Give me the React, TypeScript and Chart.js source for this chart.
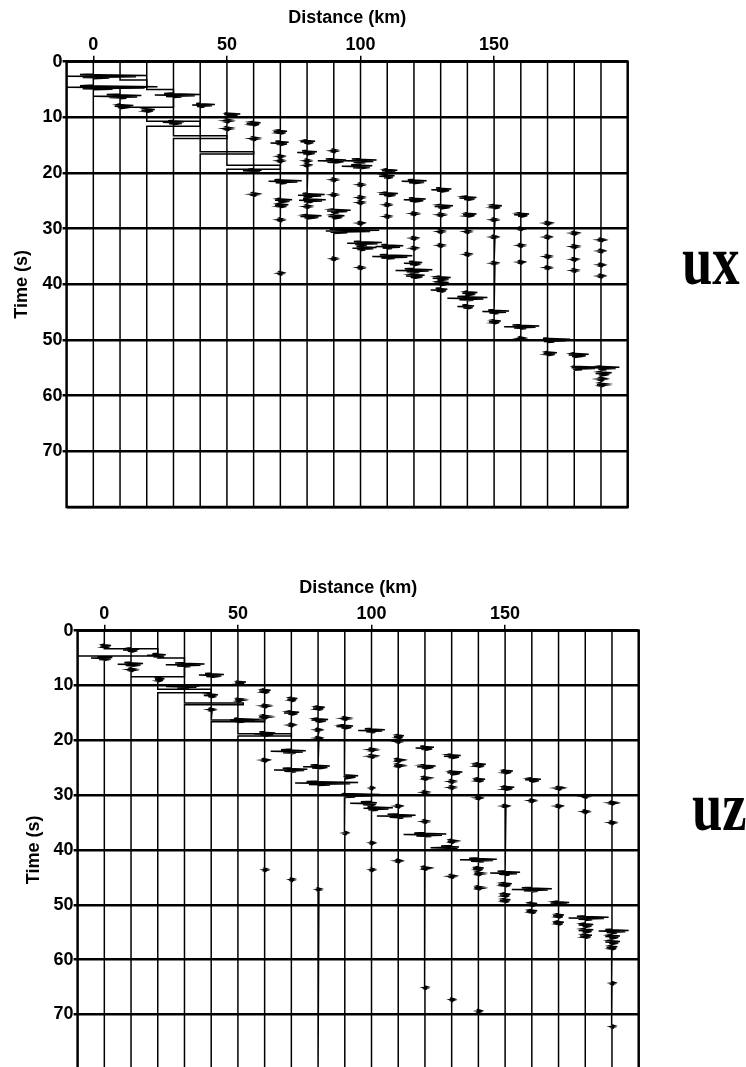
import React, { useEffect, useRef } from 'react';
import { Chart, registerables } from 'chart.js';

Chart.register(...registerables);

// ---------- data ----------
// trace positions (km) and axis ticks
const TRACE_KM = [0, 10, 20, 30, 40, 50, 60, 70, 80, 90, 100, 110, 120, 130, 140, 150, 160, 170, 180, 190];
const X_TICK_KM = [0, 50, 100, 150];
const Y_TICK_S = [0, 10, 20, 30, 40, 50, 60, 70, 80];
const X_MIN_KM = -10;
const X_MAX_KM = 200;
const T_MAX_S = 80;
const X_TITLE = 'Distance (km)';
const Y_TITLE = 'Time (s)';
const PANEL_LABELS = ['ux', 'uz'];

// picks: [trace km, time s, amplitude to the right km, amplitude to the left km, clipped hold s]
const UX_NEAR_PICKS = [
  [0, 2.6, 20, 10, 0],
  [0, 4.6, 24, 10, 0],
  [10, 3.3, 10, 15, 1.3],
  [10, 6.2, 8, 10, 0],
  [10, 8.0, 5, 2, 0],
  [20, 5.0, 10, 10, 3.2],
  [20, 8.7, 3, 2, 0],
  [20, 10.7, 20, 0, 0.9],
  [30, 6.0, 10, 7, 0],
  [30, 10.9, 4, 4, 0],
  [30, 13.3, 20, 0, 0.5],
  [40, 7.8, 5.5, 3, 0],
  [40, 16.2, 20, 0, 0.4],
  [50, 9.5, 5, 1, 0],
  [50, 10.6, 1.5, 1, 0],
  [50, 12.0, 1.5, 1, 0],
  [50, 18.6, 20, 0, 0.7],
  [60, 11.1, 2.6, 2.6, 0],
  [60, 13.8, 1.5, 1, 0],
  [60, 19.6, 3, 4, 0],
  [60, 23.8, 1.5, 1, 0],
];

const UX_FAR_PICKS = [
  [70, 12.6, 2.5, 2.5], [70, 14.6, 3.1, 3.7], [70, 17.0, 1, 1], [70, 17.8, 1, 1], [70, 21.5, 8, 4.4], [70, 24.9, 4.4, 2], [70, 25.8, 3, 2], [70, 28.4, 1, 1], [70, 38.0, 1, 0.8],
  [80, 14.4, 3, 2.5], [80, 16.3, 3.7, 3.7], [80, 17.8, 1, 1], [80, 18.6, 1, 1], [80, 24.0, 6.6, 3.4], [80, 24.9, 7, 3], [80, 26.0, 1.2, 1], [80, 27.8, 5.4, 2.5],
  [90, 16.0, 1, 1], [90, 17.8, 4.6, 6], [90, 21.2, 1, 1], [90, 23.9, 1, 1], [90, 26.8, 6.3, 2.5], [90, 27.8, 4, 2], [90, 30.4, 17, 3], [90, 35.4, 1, 0.8],
  [100, 17.8, 6, 6.5], [100, 18.8, 4.4, 7], [100, 22.1, 1, 1], [100, 24.4, 1, 1], [100, 25.3, 1, 1], [100, 29.0, 1, 1], [100, 32.6, 8, 5], [100, 33.5, 6, 3], [100, 37.0, 1, 1],
  [110, 19.6, 3.8, 2], [110, 20.6, 2.75, 3], [110, 23.8, 4, 3], [110, 25.7, 1, 1], [110, 27.8, 1, 1], [110, 33.2, 6, 4.4], [110, 35.0, 9.4, 5.6],
  [120, 21.5, 4.75, 4.6], [120, 24.8, 4.4, 3.8], [120, 27.3, 1.2, 1], [120, 31.7, 1, 1], [120, 33.5, 1, 1], [120, 36.2, 3.1, 3.75], [120, 37.5, 6.9, 6.9], [120, 38.5, 4, 3],
  [130, 23.0, 4, 3.5], [130, 26.0, 4.6, 2.25], [130, 27.5, 1.2, 1], [130, 30.5, 1, 1], [130, 33.0, 1, 1], [130, 38.9, 3.75, 3], [130, 39.8, 3, 2.5], [130, 41.0, 2.5, 3.75],
  [140, 24.5, 3.4, 3], [140, 27.5, 3.4, 1.6], [140, 30.5, 1, 1], [140, 34.6, 1, 1], [140, 41.6, 3.75, 1.9], [140, 42.5, 7.5, 7.5], [140, 44.0, 2.5, 3.75],
  [150, 26.0, 2.9, 2], [150, 28.4, 1, 1], [150, 31.5, 1, 1], [150, 36.2, 1, 1], [150, 44.9, 5.6, 4.4], [150, 46.7, 2.5, 1.9],
  [160, 27.5, 3.1, 2.5], [160, 30.0, 1, 1], [160, 33.0, 1, 1], [160, 36.0, 1, 1], [160, 47.6, 6.9, 6.25], [160, 49.7, 1.2, 1],
  [170, 29.0, 1.2, 1], [170, 31.5, 1, 1], [170, 35.0, 1, 1], [170, 37.0, 1, 1], [170, 50.0, 8.5, 3.4], [170, 52.4, 3.5, 1.5],
  [180, 30.8, 1.2, 1], [180, 33.2, 1.2, 1], [180, 35.5, 1, 1], [180, 37.5, 1, 1], [180, 52.7, 5.4, 2.1], [180, 55.0, 9.75, 1],
  [190, 32.0, 1.2, 1], [190, 34.0, 1, 1], [190, 36.5, 1, 1], [190, 38.5, 1, 1], [190, 55.0, 6.9, 2.5], [190, 56.0, 4, 2], [190, 57.0, 1.5, 1], [190, 58.0, 2, 1.5],
];

const UZ_NEAR_PICKS = [
  [0, 2.8, 2.5, 1.5, 0],
  [0, 3.3, 20, 10, 1.3],
  [0, 5.0, 3, 5, 0],
  [10, 3.5, 3, 3, 0],
  [10, 6.1, 4.5, 5, 0],
  [10, 7.1, 1.5, 1, 0],
  [20, 4.5, 3, 4, 0],
  [20, 5.0, 10, 10, 3.4],
  [20, 8.9, 2.5, 1, 0],
  [20, 10.7, 20, 0, 0.6],
  [30, 6.2, 7.5, 7, 0],
  [30, 10.2, 5.6, 6.9, 0],
  [30, 13.2, 22, 0, 0.3],
  [40, 8.1, 4.75, 4.6, 0],
  [40, 11.8, 2.5, 2.75, 0],
  [40, 14.4, 1, 1, 0],
  [40, 16.3, 20, 0, 0.3],
  [50, 9.5, 3, 1, 0],
  [50, 12.6, 2, 1, 0],
  [50, 16.3, 8, 3, 0],
  [50, 18.8, 20, 0, 0.4],
  [60, 11.0, 2.25, 2, 0],
  [60, 13.7, 1.5, 1, 0],
  [60, 15.7, 1.6, 2, 0],
  [60, 18.8, 4, 4, 0],
  [60, 23.6, 1.2, 1, 0],
  [60, 43.6, 1, 0.5, 0],
];

const UZ_FAR_PICKS = [
  [70, 12.5, 2.25, 1.5], [70, 15.0, 2.9, 2.75], [70, 17.2, 1, 1], [70, 22.0, 5.4, 7.75], [70, 25.4, 6, 6.5], [70, 45.4, 1, 0.5],
  [80, 14.1, 2.5, 1.9], [80, 16.3, 3.75, 2.5], [80, 18.1, 1, 1], [80, 19.6, 1, 1], [80, 24.8, 4.4, 5.6], [80, 27.8, 15, 8.6], [80, 47.2, 1, 0.5],
  [90, 16.0, 1.5, 1], [90, 17.5, 3.1, 3.1], [90, 26.6, 5, 0.5], [90, 30.0, 13, 1], [90, 36.9, 1, 0.5],
  [100, 18.2, 5, 5], [100, 21.7, 1.5, 1], [100, 22.9, 1.5, 1], [100, 28.7, 0.8, 0.5], [100, 31.5, 2, 8], [100, 32.4, 8, 3], [100, 38.7, 1, 0.5], [100, 43.6, 1, 0.5],
  [110, 19.3, 2.1, 1.6], [110, 20.2, 1, 1], [110, 23.6, 1.5, 1.5], [110, 24.6, 1.5, 1.5], [110, 32.0, 1, 1], [110, 33.8, 6.5, 8], [110, 42.0, 1, 1],
  [120, 21.4, 3.4, 3.5], [120, 24.8, 4, 2.9], [120, 26.9, 1.5, 1.5], [120, 29.5, 1, 1], [120, 34.8, 1, 1], [120, 37.2, 8, 8], [120, 43.3, 1.5, 1.5], [120, 65.1, 1, 0.5],
  [130, 22.9, 3.4, 2.9], [130, 25.9, 4, 1.6], [130, 27.5, 1, 1], [130, 28.6, 1, 1], [130, 38.4, 1.5, 1.5], [130, 39.6, 2.75, 7.9], [130, 44.8, 1.2, 1], [130, 67.3, 1, 0.5],
  [140, 24.5, 2.75, 2.25], [140, 27.2, 2.5, 1.8], [140, 30.5, 1, 1], [140, 41.8, 6.9, 6.9], [140, 43.4, 2, 2], [140, 44.3, 1.5, 1.5], [140, 46.9, 1.5, 1.5], [140, 69.4, 1, 0.5],
  [150, 25.7, 2.9, 1.5], [150, 28.7, 3.4, 1.5], [150, 32.0, 1, 1], [150, 44.2, 5.6, 5.6], [150, 46.3, 2.5, 2.5], [150, 48.2, 2, 2], [150, 49.2, 2, 2],
  [160, 27.2, 3.4, 2.5], [160, 31.0, 1, 1], [160, 47.2, 7.5, 7.5], [160, 49.9, 2, 2], [160, 51.2, 2, 2],
  [170, 28.7, 1.5, 1], [170, 32.0, 1, 1], [170, 49.7, 4, 3], [170, 52.0, 2, 2], [170, 53.3, 2, 2],
  [180, 30.2, 1.2, 1], [180, 33.0, 1, 1], [180, 52.4, 8.75, 6.25], [180, 53.7, 3, 2.5], [180, 54.7, 3, 2.5], [180, 55.7, 2.5, 2],
  [190, 31.4, 1.5, 1], [190, 35.0, 1, 1], [190, 54.8, 6.25, 5], [190, 55.8, 3, 2.5], [190, 56.8, 3, 2.5], [190, 57.8, 2, 2], [190, 64.3, 1, 0.5], [190, 72.2, 1, 0.5],
];

// ---------- layout / style ----------
const W = 746;
const FONT = '"Liberation Sans", Arial, Helvetica, sans-serif';
const LABEL_FONT = '"Liberation Serif", "Times New Roman", serif';
const AXIS_FONT = { family: FONT, size: 18, weight: 'bold' as const };

const PANELS = [
  {
    picks: [...UX_NEAR_PICKS, ...UX_FAR_PICKS],
    label: PANEL_LABELS[0],
    top: 0,
    height: 540,
    area: { left: 66.6, top: 61.7, right: 627.7, bottom: 507 },
    titleY: 18,
    yTitleX: 22.5,
    labelX: 682,
    labelBase: 284,
  },
  {
    picks: [...UZ_NEAR_PICKS, ...UZ_FAR_PICKS],
    label: PANEL_LABELS[1],
    top: 540,
    height: 540,
    area: { left: 77.6, top: 90.7, right: 638.7, bottom: 530 },
    titleY: 48,
    yTitleX: 34.5,
    labelX: 692,
    labelBase: 290,
  },
];

// Draws one trace as a wiggle line: baseline at the trace distance, one wavelet per pick.
function buildTrace(d: number, picks: number[][]) {
  const list = picks.filter((p) => p[0] === d).sort((a, b) => a[1] - b[1]);
  const pts: { x: number; y: number }[] = [{ x: d, y: 0 }];
  for (const p of list) {
    const t = p[1];
    const R = p[2];
    const L = p[3];
    const hold = p[4] || 0;
    if (hold > 0) {
      pts.push({ x: d, y: t }, { x: d + R, y: t }, { x: d + R, y: t + hold }, { x: d - L, y: t + hold }, { x: d, y: t + hold });
    } else {
      pts.push(
        { x: d, y: t - 0.4 },
        { x: d - 0.5 * L, y: t - 0.3 },
        { x: d + R, y: t - 0.12 },
        { x: d - L, y: t },
        { x: d + 0.8 * R, y: t + 0.12 },
        { x: d - 0.4 * L, y: t + 0.25 },
        { x: d + 0.3 * R, y: t + 0.35 },
        { x: d, y: t + 0.45 },
      );
    }
  }
  pts.push({ x: d, y: T_MAX_S });
  return pts;
}

function Panel({ cfg }: { cfg: (typeof PANELS)[number] }) {
  const ref = useRef<HTMLCanvasElement>(null);
  useEffect(() => {
    const a = cfg.area;
    const datasets = TRACE_KM.map((d) => ({
      data: buildTrace(d, cfg.picks),
      showLine: true,
      borderColor: '#000',
      backgroundColor: '#000',
      borderWidth: 1.5,
      pointRadius: 0,
      pointHoverRadius: 0,
      fill: false,
      tension: 0,
    }));
    const frame = {
      id: 'frame',
      afterDraw(chart: any) {
        const { ctx, chartArea } = chart;
        ctx.save();
        ctx.strokeStyle = '#000';
        ctx.lineWidth = 2.5;
        ctx.strokeRect(chartArea.left, chartArea.top, chartArea.right - chartArea.left, chartArea.bottom - chartArea.top);
        ctx.fillStyle = '#000';
        ctx.font = `bold 70px ${LABEL_FONT}`;
        ctx.textBaseline = 'alphabetic';
        ctx.textAlign = 'left';
        ctx.translate(cfg.labelX, cfg.labelBase);
        ctx.scale(0.78, 1);
        ctx.fillText(cfg.label, 0, 0);
        ctx.restore();
      },
    };
    const chart = new Chart(ref.current as HTMLCanvasElement, {
      type: 'scatter',
      data: { datasets } as any,
      options: {
        animation: false,
        responsive: false,
        events: [],
        layout: { padding: { left: 0, top: 0, right: W - a.right, bottom: cfg.height - a.bottom } },
        plugins: { legend: { display: false }, tooltip: { enabled: false } },
        scales: {
          x: {
            type: 'linear',
            position: 'top',
            min: X_MIN_KM,
            max: X_MAX_KM,
            afterFit: (s: any) => {
              s.height = a.top;
            },
            afterBuildTicks: (s: any) => {
              s.ticks = X_TICK_KM.map((v) => ({ value: v }));
            },
            grid: { drawOnChartArea: false, drawTicks: true, tickLength: 6, color: '#000', lineWidth: 1.5 },
            border: { display: false },
            ticks: { padding: 0, color: '#000', font: AXIS_FONT, maxRotation: 0, autoSkip: false },
            title: {
              display: true,
              text: X_TITLE,
              color: '#000',
              font: AXIS_FONT,
              padding: { top: cfg.titleY - 10.8, bottom: 0 },
            },
          },
          y: {
            type: 'linear',
            reverse: true,
            min: 0,
            max: T_MAX_S,
            afterFit: (s: any) => {
              s.width = a.left;
            },
            afterBuildTicks: (s: any) => {
              s.ticks = Y_TICK_S.map((v) => ({ value: v }));
            },
            grid: {
              color: '#000',
              lineWidth: 2.5,
              tickLength: 4,
              drawTicks: true,
              tickColor: (c: any) => (c.tick && c.tick.value === T_MAX_S ? 'rgba(0,0,0,0)' : '#000'),
            },
            border: { display: false },
            ticks: {
              padding: 0,
              color: '#000',
              font: AXIS_FONT,
              autoSkip: false,
              callback: (v: any) => (Number(v) === T_MAX_S ? '' : String(v)),
            },
            title: {
              display: true,
              text: Y_TITLE,
              color: '#000',
              font: AXIS_FONT,
              padding: { top: cfg.yTitleX - 10.8, bottom: 0 },
            },
          },
        },
      } as any,
      plugins: [frame],
    });
    return () => chart.destroy();
  }, [cfg]);
  return (
    <div style={{ position: 'absolute', left: 0, top: cfg.top, width: W, height: cfg.height }}>
      <canvas ref={ref} width={W} height={cfg.height} style={{ display: 'block' }} />
    </div>
  );
}

export default function App() {
  return (
    <div style={{ position: 'absolute', left: 0, top: 0, width: W, height: 1067, overflow: 'hidden', background: '#fff' }}>
      {PANELS.map((p, i) => (
        <Panel key={i} cfg={p} />
      ))}
    </div>
  );
}
